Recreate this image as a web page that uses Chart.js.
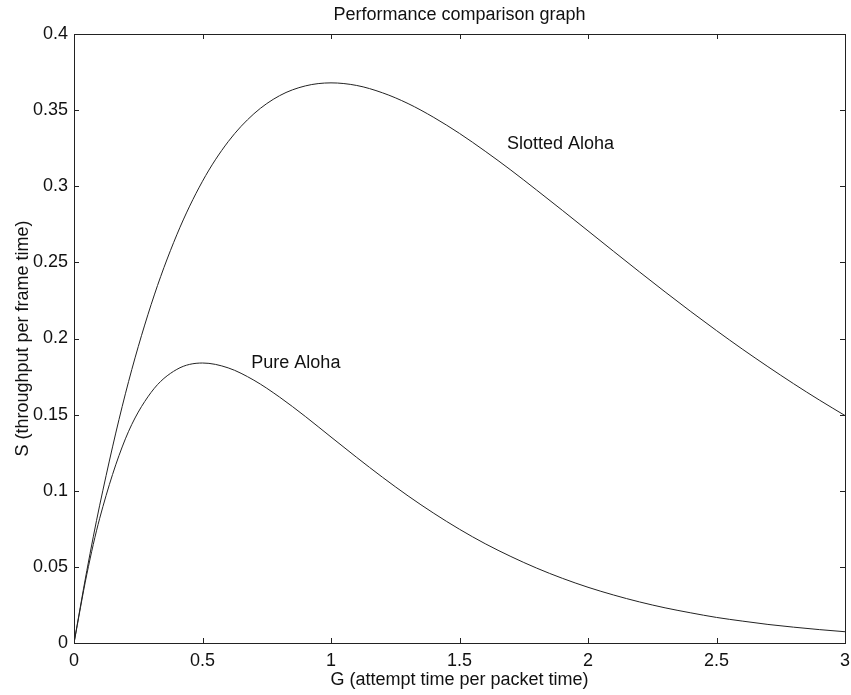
<!DOCTYPE html>
<html>
<head>
<meta charset="utf-8">
<script src="https://cdn.jsdelivr.net/npm/chart.js@4"></script>
<style>
  html, body { margin: 0; padding: 0; background: #fff; }
  #wrap { width: 851px; height: 695px; }
</style>
</head>
<body>
<div id="wrap"><canvas id="myChart"></canvas></div>
<script>
// values
var attempts = [0, 0.05, 0.1, 0.2, 0.3, 0.4, 0.5, 0.6, 0.7, 0.8, 0.9, 1.0, 1.1, 1.2, 1.3, 1.4, 1.5,
                1.6, 1.7, 1.8, 1.9, 2.0, 2.1, 2.2, 2.3, 2.4, 2.5, 2.6, 2.7, 2.8, 2.9, 3.0];
var slotted = [0, 0.0476, 0.0905, 0.1637, 0.2222, 0.2681, 0.3033, 0.3293, 0.3476, 0.3595, 0.3659,
               0.3679, 0.3662, 0.3614, 0.3543, 0.3452, 0.3347, 0.3230, 0.3106, 0.2975, 0.2842,
               0.2707, 0.2572, 0.2438, 0.2306, 0.2177, 0.2052, 0.1931, 0.1815, 0.1703, 0.1596, 0.1494];
var pure = [0, 0.0452, 0.0819, 0.1341, 0.1646, 0.1797, 0.1839, 0.1807, 0.1726, 0.1615, 0.1488,
            0.1353, 0.1219, 0.1089, 0.0966, 0.0852, 0.0747, 0.0652, 0.0568, 0.0492, 0.0425,
            0.0366, 0.0315, 0.0270, 0.0231, 0.0198, 0.0168, 0.0144, 0.0122, 0.0104, 0.0088, 0.0074];

var xTicks = [0, 0.5, 1, 1.5, 2, 2.5, 3];
var yTicks = [0, 0.05, 0.1, 0.15, 0.2, 0.25, 0.3, 0.35, 0.4];

// curve labels, placed in data coordinates (left edge, middle)
var curveLabels = [
  { text: "Slotted Aloha", g: 1.685, s: 0.328 },
  { text: "Pure Aloha", g: 0.69, s: 0.184 }
];

function points(ys) {
  return attempts.map(function (g, i) { return { x: g, y: ys[i] }; });
}

var ink = "#222";
var fontFamily = "'Liberation Sans', Arial, sans-serif";

// box around the plot plus inward ticks on all four sides, like the original
const boxPlugin = {
  id: "box",
  afterDraw(chart) {
    const ctx = chart.ctx;
    const a = chart.chartArea;
    const xs = chart.scales.x, ys = chart.scales.y;
    const len = 5;
    ctx.save();
    ctx.strokeStyle = ink;
    ctx.lineWidth = 1;
    ctx.strokeRect(Math.round(a.left) + 0.5, Math.round(a.top) + 0.5,
                   Math.round(a.right - a.left), Math.round(a.bottom - a.top));
    ctx.beginPath();
    xs.ticks.forEach(function (t) {
      const px = Math.round(xs.getPixelForValue(t.value)) + 0.5;
      ctx.moveTo(px, a.bottom); ctx.lineTo(px, a.bottom - len);
      ctx.moveTo(px, a.top); ctx.lineTo(px, a.top + len);
    });
    ys.ticks.forEach(function (t) {
      const py = Math.round(ys.getPixelForValue(t.value)) + 0.5;
      ctx.moveTo(a.left, py); ctx.lineTo(a.left + len, py);
      ctx.moveTo(a.right, py); ctx.lineTo(a.right - len, py);
    });
    ctx.stroke();

    ctx.fillStyle = "#111";
    ctx.font = "18px " + fontFamily;
    ctx.textAlign = "left";
    ctx.textBaseline = "middle";
    curveLabels.forEach(function (l) {
      ctx.fillText(l.text, xs.getPixelForValue(l.g), ys.getPixelForValue(l.s));
    });
    ctx.restore();
  }
};

Chart.defaults.font.family = fontFamily;
Chart.defaults.font.size = 18;
Chart.defaults.color = "#111";

const config = {
  type: "line",
  data: {
    datasets: [
      {
        label: "Slotted Aloha",
        data: points(slotted),
        borderColor: ink,
        borderWidth: 1,
        pointRadius: 0,
        cubicInterpolationMode: "monotone"
      },
      {
        label: "Pure Aloha",
        data: points(pure),
        borderColor: ink,
        borderWidth: 1,
        pointRadius: 0,
        cubicInterpolationMode: "monotone"
      }
    ]
  },
  options: {
    responsive: true,
    maintainAspectRatio: false,
    animation: false,
    layout: { padding: { left: 0, right: 6, top: 0, bottom: 0 } },
    plugins: {
      legend: { display: false },
      tooltip: { enabled: false },
      title: {
        display: true,
        fullSize: false,
        text: "Performance comparison graph",
        font: { size: 18, weight: "normal" },
        color: "#111",
        padding: { top: 4, bottom: 8.4 }
      }
    },
    scales: {
      x: {
        type: "linear",
        min: 0,
        max: 3,
        afterBuildTicks: function (scale) {
          scale.ticks = xTicks.map(function (v) { return { value: v }; });
        },
        afterFit: function (scale) {
          scale.height = 52;
          scale.paddingLeft = 0;
          scale.paddingRight = 0;
        },
        grid: { display: false, drawTicks: false },
        border: { display: false },
        ticks: { padding: 7, maxRotation: 0, autoSkip: false,
                 callback: function (v) { return String(v); } },
        title: {
          display: true,
          text: "G (attempt time per packet time)",
          padding: { top: 0, bottom: 4 }
        }
      },
      y: {
        type: "linear",
        min: 0,
        max: 0.4,
        afterBuildTicks: function (scale) {
          scale.ticks = yTicks.map(function (v) { return { value: v }; });
        },
        afterFit: function (scale) {
          scale.width = 74;
          scale.paddingTop = 0;
          scale.paddingBottom = 0;
        },
        grid: { display: false, drawTicks: false },
        border: { display: false },
        ticks: { padding: 6, autoSkip: false,
                 callback: function (v) { return String(Math.round(v * 100) / 100); } },
        title: {
          display: true,
          text: "S (throughput per frame time)",
          padding: { top: 12, bottom: 0 }
        }
      }
    }
  },
  plugins: [boxPlugin]
};

var myChart = new Chart(document.getElementById("myChart"), config);
</script>
</body>
</html>
